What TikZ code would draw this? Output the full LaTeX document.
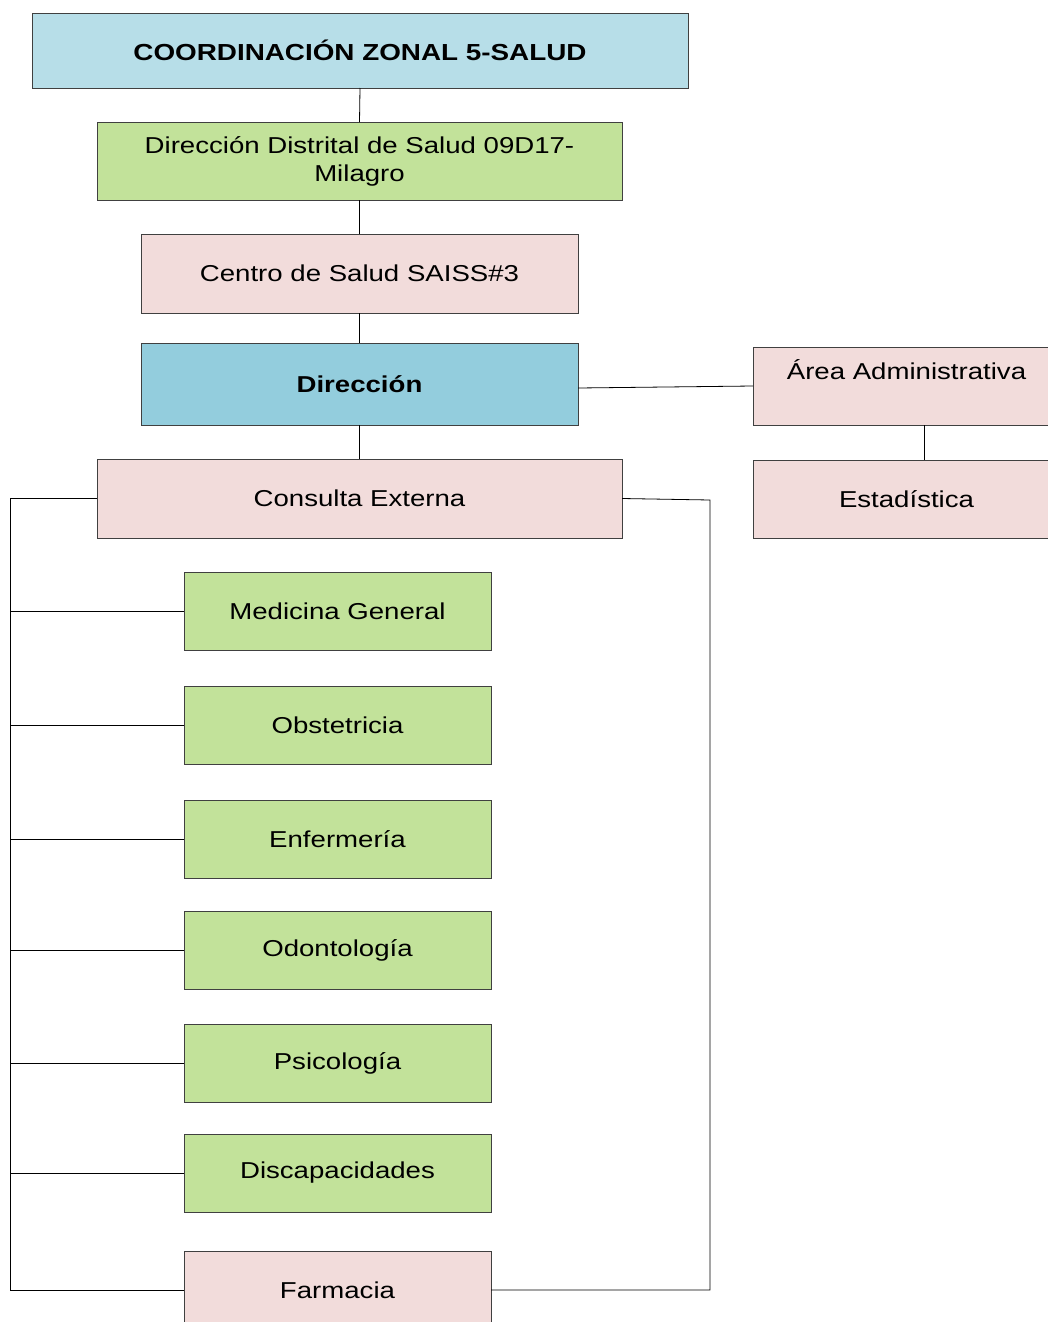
\documentclass[tikz,border=0pt]{standalone}
\usepackage{fontspec}
\setmainfont{Liberation Sans}[FakeStretch=1.2]
\definecolor{cblue}{HTML}{B7DEE8}
\definecolor{dblue}{HTML}{93CDDD}
\definecolor{lgreen}{HTML}{C2E29A}
\definecolor{lpink}{HTML}{F2DCDB}
\definecolor{bordc}{HTML}{404040}
\tikzset{
  box/.style={draw=bordc, line width=0.8pt, inner sep=0pt, outer sep=0pt, align=center,
    font=\fontsize{23}{28}\selectfont},
  kid/.style={box, fill=lgreen, minimum width=307pt, minimum height=78pt},
  conn/.style={draw=black, line width=0.8pt},
}
\begin{document}
\begin{tikzpicture}[x=1pt,y=-1pt]
\useasboundingbox (0,0) rectangle (1048,1322);
\clip (0,0) rectangle (1048,1322);
\fill[white] (0,0) rectangle (1048,1322);

\node[box, fill=cblue, minimum width=656pt, minimum height=75pt, font=\fontsize{23.2}{26}\selectfont\bfseries] (coord) at (360,50.5) {COORDINACIÓN ZONAL 5-SALUD};
\node[box, fill=lgreen, minimum width=525pt, minimum height=78pt] (dist) at (359.5,161) {Dirección Distrital de Salud 09D17-\\Milagro};
\node[box, fill=lpink, minimum width=437pt, minimum height=79pt] (centro) at (359.5,273.5) {Centro de Salud SAISS\#3};
\node[box, fill=dblue, minimum width=437pt, minimum height=82pt, font=\fontsize{23}{28}\selectfont\bfseries] (dir) at (359.5,384) {Dirección};
\node[box, fill=lpink, minimum width=307pt, minimum height=78pt] (area) at (906.5,386) {Área Administrativa\\[-4pt]\strut};
\node[box, fill=lpink, minimum width=307pt, minimum height=78pt] (est) at (906.5,499) {Estadística};
\node[box, fill=lpink, minimum width=525pt, minimum height=79pt] (cons) at (359.5,498.5) {Consulta Externa};

\node[kid] (med) at (337.5,611) {Medicina General};
\node[kid] (obs) at (337.5,725.5) {Obstetricia};
\node[kid] (enf) at (337.5,839.5) {Enfermería};
\node[kid] (odo) at (337.5,950.5) {Odontología};
\node[kid] (psi) at (337.5,1063) {Psicología};
\node[kid] (dis) at (337.5,1173) {Discapacidades};
\node[kid, fill=lpink] (far) at (337.5,1290) {Farmacia};

\coordinate (busLtop) at (10,498.5);
\coordinate (busLbot) at (10,1290);
\coordinate (busRtop) at (710,500);
\coordinate (busRbot) at (710,1290);

\draw[conn] (coord.south) -- (dist.north);
\draw[conn] (dist.south) -- (centro.north);
\draw[conn] (centro.south) -- (dir.north);
\draw[conn] (dir.south) -- (cons.north);
\draw[conn] ([yshift=-4pt]dir.east) -- (area.west);
\draw[conn] ([xshift=17.5pt]area.south) -- ([xshift=17.5pt]est.north);

\draw[conn] (cons.west) -- (busLtop) -- (busLbot) -- (far.west);
\draw[conn] (cons.east) -- (busRtop) -- (busRbot) -- (far.east);
\foreach \n in {med,obs,enf,odo,psi,dis}{
  \draw[conn] (\n.west) -- (\n.west -| busLtop);
}
\end{tikzpicture}
\end{document}
